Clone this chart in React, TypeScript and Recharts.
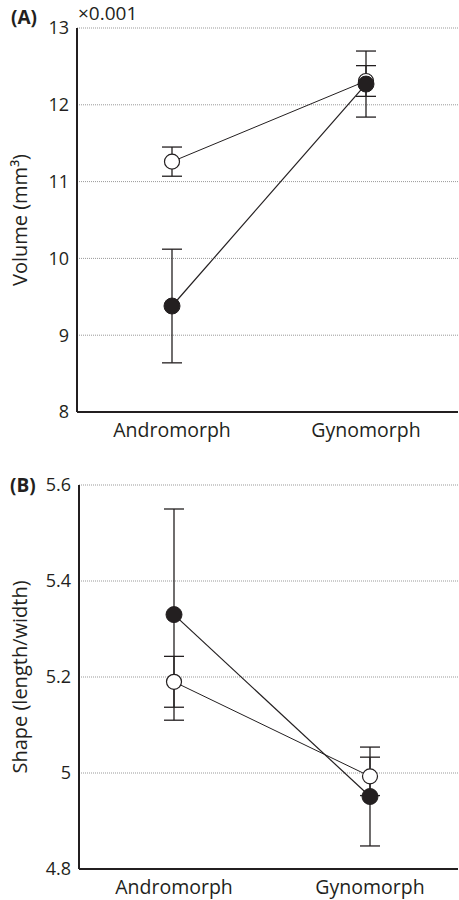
import { CartesianGrid, ErrorBar, Line, LineChart, XAxis, YAxis } from 'recharts';

const categories = ['Andromorph', 'Gynomorph'];

const volumeOpen = [11.26, 12.31];
const volumeOpenErr = [0.19, 0.2];
const volumeFilled = [9.38, 12.27];
const volumeFilledErr = [0.74, 0.43];
const volumeTicks = [8, 9, 10, 11, 12, 13];

const shapeOpen = [5.19, 4.993];
const shapeOpenErr = [0.053, 0.04];
const shapeFilled = [5.33, 4.951];
const shapeFilledErr = [0.22, 0.103];
const shapeTicks = [4.8, 5, 5.2, 5.4, 5.6];

const INK = '#231f20';
const FONT = '"Open Sans", sans-serif';

const buildRows = (open: number[], openErr: number[], filled: number[], filledErr: number[]) =>
  categories.map((category, i) => ({
    category,
    open: open[i],
    openErr: openErr[i],
    filled: filled[i],
    filledErr: filledErr[i],
  }));

const volumeData = buildRows(volumeOpen, volumeOpenErr, volumeFilled, volumeFilledErr);
const shapeData = buildRows(shapeOpen, shapeOpenErr, shapeFilled, shapeFilledErr);

interface PanelProps {
  data: ReturnType<typeof buildRows>;
  ticks: number[];
  label: string;
  top: number;
  yWidth: number;
  xPadding: { left: number; right: number };
}

const Panel = ({ data, ticks, label, top, yWidth, xPadding }: PanelProps) => (
  <LineChart
    width={459}
    height={450}
    data={data}
    margin={{ top, right: 1, bottom: 450 - top - 384 - 30, left: 0 }}
  >
    <CartesianGrid vertical={false} stroke='#999' strokeDasharray='1 1' />
    <XAxis
      dataKey='category'
      height={30}
      padding={xPadding}
      axisLine={{ stroke: INK, strokeWidth: 2 }}
      tickLine={false}
      tickMargin={5}
      tick={{ fill: INK, fontSize: 19.5, fontFamily: FONT }}
    />
    <YAxis
      width={yWidth}
      domain={[ticks[0], ticks[ticks.length - 1]]}
      ticks={ticks}
      tickFormatter={(v: number) => String(v)}
      axisLine={{ stroke: INK, strokeWidth: 2 }}
      tickLine={false}
      tick={{ fill: INK, fontSize: 18, fontFamily: FONT }}
      label={{
        value: label,
        angle: -90,
        position: 'insideLeft',
        offset: 20,
        style: { textAnchor: 'middle', fill: INK, fontSize: 20, fontFamily: FONT },
      }}
    />
    <Line
      dataKey='open'
      stroke={INK}
      strokeWidth={1}
      isAnimationActive={false}
      dot={{ r: 7.5, fill: '#fff', stroke: INK, strokeWidth: 1.2 }}
      activeDot={false}
    >
      <ErrorBar dataKey='openErr' width={10} stroke={INK} strokeWidth={1.3} isAnimationActive={false} />
    </Line>
    <Line
      dataKey='filled'
      stroke={INK}
      strokeWidth={1.2}
      isAnimationActive={false}
      dot={{ r: 8, fill: INK, stroke: INK, strokeWidth: 1 }}
      activeDot={false}
    >
      <ErrorBar dataKey='filledErr' width={10} stroke={INK} strokeWidth={1.3} isAnimationActive={false} />
    </Line>
  </LineChart>
);

const tag = { position: 'absolute' as const, color: INK, fontFamily: FONT, lineHeight: 1 };

export default function App() {
  return (
    <div style={{ position: 'absolute', left: 0, top: 0, width: 459, height: 900, background: '#fff' }}>
      <div style={{ position: 'absolute', left: 0, top: 0 }}>
        <Panel data={volumeData} ticks={volumeTicks} label='Volume (mm³)' top={28} yWidth={77} xPadding={{ left: 95, right: 92 }} />
      </div>
      <div style={{ position: 'absolute', left: 0, top: 450 }}>
        <Panel data={shapeData} ticks={shapeTicks} label='Shape (length/width)' top={35} yWidth={79} xPadding={{ left: 95, right: 88 }} />
      </div>
      <div style={{ ...tag, left: 11, top: 8, fontSize: 19, fontWeight: 700 }}>(A)</div>
      <div style={{ ...tag, left: 78, top: 4, fontSize: 19 }}>×0.001</div>
      <div style={{ ...tag, left: 10, top: 476, fontSize: 19, fontWeight: 700 }}>(B)</div>
    </div>
  );
}
